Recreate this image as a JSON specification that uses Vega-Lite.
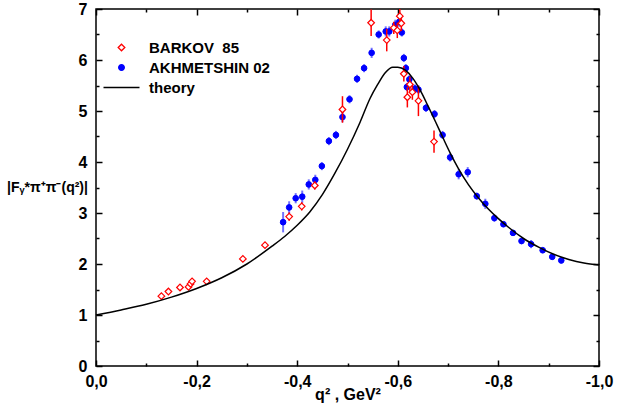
{
  "$schema": "https://vega.github.io/schema/vega-lite/v6.json",
  "width": 503,
  "height": 357,
  "autosize": {"type": "none"},
  "padding": {"left": 96, "top": 9, "right": 44, "bottom": 48},
  "background": "white",
  "config": {
    "font": "Liberation Sans",
    "view": {"stroke": "#000", "strokeWidth": 1.5},
    "axis": {
      "domain": false, "grid": false, "tickColor": "#000", "tickWidth": 1.5,
      "labelFont": "Liberation Sans", "labelFontSize": 16, "labelFontWeight": "bold", "labelColor": "#000",
      "labelOverlap": false, "labelBound": false, "labelFlush": false,
      "titleFont": "Liberation Sans", "titleFontSize": 16, "titleFontWeight": "bold", "titleColor": "#000"
    },
    "legend": {
      "labelFont": "Liberation Sans", "labelFontSize": 15, "labelFontWeight": "bold", "labelColor": "#000"
    }
  },
  "data": {"values": [
    {"series": "AKHMETSHIN 02", "q2": -0.372, "F": 2.82, "err": 0.20},
    {"series": "AKHMETSHIN 02", "q2": -0.384, "F": 3.11, "err": 0.12},
    {"series": "AKHMETSHIN 02", "q2": -0.397, "F": 3.29, "err": 0.10},
    {"series": "AKHMETSHIN 02", "q2": -0.410, "F": 3.32, "err": 0.12},
    {"series": "AKHMETSHIN 02", "q2": -0.423, "F": 3.56, "err": 0.10},
    {"series": "AKHMETSHIN 02", "q2": -0.436, "F": 3.65, "err": 0.10},
    {"series": "AKHMETSHIN 02", "q2": -0.449, "F": 3.92, "err": 0.08},
    {"series": "AKHMETSHIN 02", "q2": -0.463, "F": 4.41, "err": 0.08},
    {"series": "AKHMETSHIN 02", "q2": -0.477, "F": 4.53, "err": 0.08},
    {"series": "AKHMETSHIN 02", "q2": -0.490, "F": 4.88, "err": 0.10},
    {"series": "AKHMETSHIN 02", "q2": -0.504, "F": 5.23, "err": 0.08},
    {"series": "AKHMETSHIN 02", "q2": -0.519, "F": 5.63, "err": 0.08},
    {"series": "AKHMETSHIN 02", "q2": -0.533, "F": 5.84, "err": 0.08},
    {"series": "AKHMETSHIN 02", "q2": -0.548, "F": 6.14, "err": 0.10},
    {"series": "AKHMETSHIN 02", "q2": -0.562, "F": 6.50, "err": 0.08},
    {"series": "AKHMETSHIN 02", "q2": -0.576, "F": 6.56, "err": 0.10},
    {"series": "AKHMETSHIN 02", "q2": -0.583, "F": 6.56, "err": 0.10},
    {"series": "AKHMETSHIN 02", "q2": -0.595, "F": 6.69, "err": 0.10},
    {"series": "AKHMETSHIN 02", "q2": -0.603, "F": 6.75, "err": 0.10},
    {"series": "AKHMETSHIN 02", "q2": -0.608, "F": 6.54, "err": 0.08},
    {"series": "AKHMETSHIN 02", "q2": -0.612, "F": 6.04, "err": 0.08},
    {"series": "AKHMETSHIN 02", "q2": -0.616, "F": 5.84, "err": 0.08},
    {"series": "AKHMETSHIN 02", "q2": -0.618, "F": 5.47, "err": 0.08},
    {"series": "AKHMETSHIN 02", "q2": -0.623, "F": 5.62, "err": 0.08},
    {"series": "AKHMETSHIN 02", "q2": -0.634, "F": 5.44, "err": 0.08},
    {"series": "AKHMETSHIN 02", "q2": -0.641, "F": 5.42, "err": 0.08},
    {"series": "AKHMETSHIN 02", "q2": -0.656, "F": 5.06, "err": 0.08},
    {"series": "AKHMETSHIN 02", "q2": -0.673, "F": 4.94, "err": 0.08},
    {"series": "AKHMETSHIN 02", "q2": -0.689, "F": 4.53, "err": 0.08},
    {"series": "AKHMETSHIN 02", "q2": -0.704, "F": 4.09, "err": 0.08},
    {"series": "AKHMETSHIN 02", "q2": -0.721, "F": 3.76, "err": 0.10},
    {"series": "AKHMETSHIN 02", "q2": -0.739, "F": 3.80, "err": 0.10},
    {"series": "AKHMETSHIN 02", "q2": -0.757, "F": 3.33, "err": 0.07},
    {"series": "AKHMETSHIN 02", "q2": -0.774, "F": 3.18, "err": 0.10},
    {"series": "AKHMETSHIN 02", "q2": -0.792, "F": 2.90, "err": 0.07},
    {"series": "AKHMETSHIN 02", "q2": -0.810, "F": 2.78, "err": 0.06},
    {"series": "AKHMETSHIN 02", "q2": -0.829, "F": 2.61, "err": 0.06},
    {"series": "AKHMETSHIN 02", "q2": -0.846, "F": 2.45, "err": 0.06},
    {"series": "AKHMETSHIN 02", "q2": -0.865, "F": 2.39, "err": 0.08},
    {"series": "AKHMETSHIN 02", "q2": -0.888, "F": 2.27, "err": 0.06},
    {"series": "AKHMETSHIN 02", "q2": -0.907, "F": 2.14, "err": 0.06},
    {"series": "AKHMETSHIN 02", "q2": -0.925, "F": 2.07, "err": 0.06},
    {"series": "BARKOV 85", "q2": -0.130, "F": 1.37, "err": 0.03},
    {"series": "BARKOV 85", "q2": -0.144, "F": 1.46, "err": 0.03},
    {"series": "BARKOV 85", "q2": -0.167, "F": 1.54, "err": 0.03},
    {"series": "BARKOV 85", "q2": -0.184, "F": 1.55, "err": 0.03},
    {"series": "BARKOV 85", "q2": -0.188, "F": 1.61, "err": 0.03},
    {"series": "BARKOV 85", "q2": -0.191, "F": 1.66, "err": 0.03},
    {"series": "BARKOV 85", "q2": -0.220, "F": 1.66, "err": 0.03},
    {"series": "BARKOV 85", "q2": -0.292, "F": 2.10, "err": 0.04},
    {"series": "BARKOV 85", "q2": -0.336, "F": 2.37, "err": 0.05},
    {"series": "BARKOV 85", "q2": -0.384, "F": 2.93, "err": 0.08},
    {"series": "BARKOV 85", "q2": -0.409, "F": 3.13, "err": 0.08},
    {"series": "BARKOV 85", "q2": -0.435, "F": 3.54, "err": 0.08},
    {"series": "BARKOV 85", "q2": -0.490, "F": 5.03, "err": 0.26},
    {"series": "BARKOV 85", "q2": -0.547, "F": 6.73, "err": 0.26},
    {"series": "BARKOV 85", "q2": -0.578, "F": 6.39, "err": 0.22},
    {"series": "BARKOV 85", "q2": -0.592, "F": 6.63, "err": 0.12},
    {"series": "BARKOV 85", "q2": -0.599, "F": 6.58, "err": 0.15},
    {"series": "BARKOV 85", "q2": -0.604, "F": 6.86, "err": 0.14},
    {"series": "BARKOV 85", "q2": -0.607, "F": 6.72, "err": 0.15},
    {"series": "BARKOV 85", "q2": -0.612, "F": 5.73, "err": 0.15},
    {"series": "BARKOV 85", "q2": -0.619, "F": 5.27, "err": 0.20},
    {"series": "BARKOV 85", "q2": -0.624, "F": 5.52, "err": 0.15},
    {"series": "BARKOV 85", "q2": -0.629, "F": 5.37, "err": 0.15},
    {"series": "BARKOV 85", "q2": -0.641, "F": 5.20, "err": 0.30},
    {"series": "BARKOV 85", "q2": -0.672, "F": 4.40, "err": 0.22},
    {"series": "theory", "q2": 0.0, "F": 1.00},
    {"series": "theory", "q2": -0.05, "F": 1.10},
    {"series": "theory", "q2": -0.10, "F": 1.21},
    {"series": "theory", "q2": -0.15, "F": 1.35},
    {"series": "theory", "q2": -0.20, "F": 1.52},
    {"series": "theory", "q2": -0.25, "F": 1.73},
    {"series": "theory", "q2": -0.30, "F": 2.00},
    {"series": "theory", "q2": -0.35, "F": 2.35},
    {"series": "theory", "q2": -0.375, "F": 2.54},
    {"series": "theory", "q2": -0.40, "F": 2.76},
    {"series": "theory", "q2": -0.425, "F": 3.02},
    {"series": "theory", "q2": -0.45, "F": 3.36},
    {"series": "theory", "q2": -0.475, "F": 3.78},
    {"series": "theory", "q2": -0.50, "F": 4.25},
    {"series": "theory", "q2": -0.525, "F": 4.78},
    {"series": "theory", "q2": -0.545, "F": 5.25},
    {"series": "theory", "q2": -0.56, "F": 5.52},
    {"series": "theory", "q2": -0.575, "F": 5.75},
    {"series": "theory", "q2": -0.59, "F": 5.86},
    {"series": "theory", "q2": -0.60, "F": 5.86},
    {"series": "theory", "q2": -0.615, "F": 5.80},
    {"series": "theory", "q2": -0.63, "F": 5.64},
    {"series": "theory", "q2": -0.645, "F": 5.40},
    {"series": "theory", "q2": -0.66, "F": 5.10},
    {"series": "theory", "q2": -0.675, "F": 4.79},
    {"series": "theory", "q2": -0.69, "F": 4.47},
    {"series": "theory", "q2": -0.705, "F": 4.16},
    {"series": "theory", "q2": -0.72, "F": 3.88},
    {"series": "theory", "q2": -0.74, "F": 3.56},
    {"series": "theory", "q2": -0.76, "F": 3.30},
    {"series": "theory", "q2": -0.78, "F": 3.08},
    {"series": "theory", "q2": -0.80, "F": 2.89},
    {"series": "theory", "q2": -0.82, "F": 2.72},
    {"series": "theory", "q2": -0.85, "F": 2.50},
    {"series": "theory", "q2": -0.88, "F": 2.33},
    {"series": "theory", "q2": -0.91, "F": 2.19},
    {"series": "theory", "q2": -0.94, "F": 2.09},
    {"series": "theory", "q2": -0.97, "F": 2.02},
    {"series": "theory", "q2": -1.00, "F": 1.98}
  ]},
  "resolve": {"axis": {"x": "independent", "y": "independent"}},
  "layer": [
    {
      "transform": [{"filter": "datum.series == 'AKHMETSHIN 02'"}],
      "mark": {"type": "errorbar", "ticks": false, "thickness": 2, "opacity": 0.55},
      "encoding": {
        "x": {"field": "q2", "type": "quantitative", "scale": {"domain": [0, -1], "nice": false, "zero": false}, "axis": null},
        "y": {"field": "F", "type": "quantitative", "scale": {"domain": [0, 7], "nice": false}, "axis": null},
        "yError": {"field": "err"},
        "color": {"field": "series", "type": "nominal", "scale": {"domain": ["BARKOV 85", "AKHMETSHIN 02", "theory"], "range": ["#ff0000", "#0000ff", "#000000"]}}
      }
    },
    {
      "transform": [{"filter": "datum.series == 'AKHMETSHIN 02'"}],
      "mark": {"type": "point", "shape": "circle", "filled": false, "fill": "#0000ff", "strokeWidth": 1, "opacity": 1, "size": 32},
      "encoding": {
        "x": {"field": "q2", "type": "quantitative", "axis": {
          "orient": "top", "values": [0, -0.1, -0.2, -0.3, -0.4, -0.5, -0.6, -0.7, -0.8, -0.9, -1.0],
          "tickSize": {"condition": {"test": "round(abs(datum.value)*10) % 2 == 0", "value": -6}, "value": -3},
          "labels": false, "title": null}},
        "y": {"field": "F", "type": "quantitative", "axis": {
          "orient": "right", "values": [0, 0.5, 1, 1.5, 2, 2.5, 3, 3.5, 4, 4.5, 5, 5.5, 6, 6.5, 7],
          "tickSize": {"condition": {"test": "datum.value % 1 == 0", "value": -6}, "value": -3},
          "labels": false, "title": null}},
        "color": {"field": "series", "type": "nominal"}
      }
    },
    {
      "transform": [{"filter": "datum.series == 'BARKOV 85'"}],
      "mark": {"type": "errorbar", "ticks": false, "thickness": 1.5},
      "encoding": {
        "x": {"field": "q2", "type": "quantitative", "axis": null},
        "y": {"field": "F", "type": "quantitative", "axis": null},
        "yError": {"field": "err"},
        "color": {"field": "series", "type": "nominal"}
      }
    },
    {
      "transform": [{"filter": "datum.series == 'BARKOV 85'"}],
      "mark": {"type": "point", "shape": "diamond", "filled": false, "fill": "#ffffff", "opacity": 1, "strokeWidth": 1.2, "size": 44},
      "encoding": {
        "x": {"field": "q2", "type": "quantitative", "axis": null},
        "y": {"field": "F", "type": "quantitative", "axis": null},
        "color": {"field": "series", "type": "nominal"}
      }
    },
    {
      "transform": [{"filter": "datum.series == 'theory'"}],
      "mark": {"type": "line", "strokeWidth": 1.5, "interpolate": "monotone"},
      "encoding": {
        "x": {"field": "q2", "type": "quantitative", "axis": {
          "orient": "bottom", "values": [0, -0.1, -0.2, -0.3, -0.4, -0.5, -0.6, -0.7, -0.8, -0.9, -1.0],
          "tickSize": {"condition": {"test": "round(abs(datum.value)*10) % 2 == 0", "value": -6}, "value": -3},
          "labelPadding": 13,
          "labelExpr": "round(abs(datum.value)*10) % 2 == 0 ? (datum.value == 0 ? '0,0' : '-' + replace(format(abs(datum.value), '.1f'), '.', ',')) : ''",
          "title": "q² , GeV²", "titleY": 33, "titleBaseline": "alphabetic"}},
        "y": {"field": "F", "type": "quantitative", "axis": {
          "orient": "left", "values": [0, 0.5, 1, 1.5, 2, 2.5, 3, 3.5, 4, 4.5, 5, 5.5, 6, 6.5, 7],
          "tickSize": {"condition": {"test": "datum.value % 1 == 0", "value": -6}, "value": -3},
          "labelPadding": 15,
          "labelExpr": "datum.value % 1 == 0 ? format(datum.value, 'd') : ''",
          "title": "|Fᵧ*π⁺π⁻(q²)|", "titleAngle": 0, "titleAlign": "center", "titleBaseline": "middle",
          "titleFontSize": 14, "titleX": -49, "titleY": 178}},
        "color": {"field": "series", "type": "nominal", "legend": {
          "orient": "none", "legendX": 18, "legendY": 31, "title": null, "padding": 0,
          "symbolSize": 1296, "rowPadding": 4, "labelOffset": 20,
          "labelExpr": "datum.label == 'BARKOV 85' ? 'BARKOV\u00a0 85' : datum.label",
          "encode": {"symbols": {"update": {
            "shape": {"signal": "datum.value == 'theory' ? 'stroke' : (datum.value == 'BARKOV 85' ? 'diamond' : 'circle')"},
            "size": {"signal": "datum.value == 'theory' ? 1296 : (datum.value == 'BARKOV 85' ? 44 : 32)"},
            "fill": {"signal": "datum.value == 'theory' ? 'transparent' : (datum.value == 'BARKOV 85' ? '#ffffff' : '#0000ff')"},
            "fillOpacity": {"value": 1},
            "stroke": {"signal": "datum.value == 'BARKOV 85' ? '#ff0000' : (datum.value == 'theory' ? '#000000' : '#0000ff')"},
            "strokeWidth": {"value": 1.3},
            "opacity": {"value": 1}
          }}}
        }}
      }
    }
  ]
}
